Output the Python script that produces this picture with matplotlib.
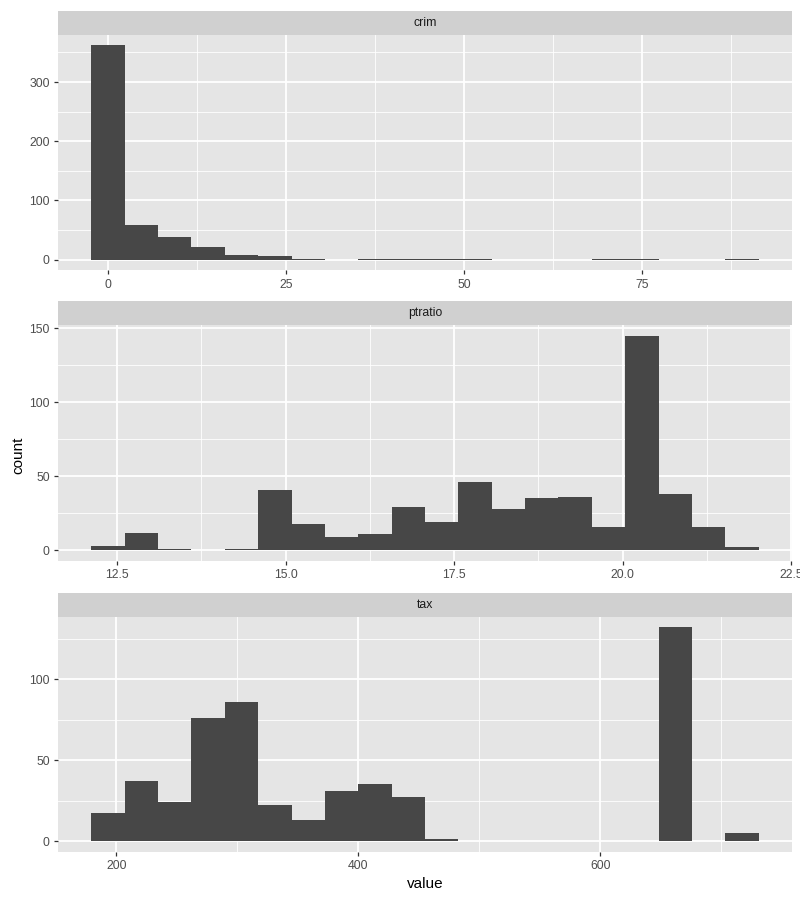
import numpy as np
import matplotlib
matplotlib.use("Agg")
import matplotlib.pyplot as plt

plt.rcParams['font.family'] = ['Liberation Sans', 'DejaVu Sans']

# values: 20 bins per facet (ggplot bins=20)
facets = ["crim", "ptratio", "tax"]
crim_range = (0.00632, 88.9762)
crim_counts = [362, 59, 38, 21, 8, 6, 1, 0, 1, 1, 1, 1, 0, 0, 0, 1, 1, 0, 0, 1]
ptratio_range = (12.6, 22.0)
ptratio_counts = [3, 12, 1, 0, 1, 41, 18, 9, 11, 29, 19, 46, 28, 35, 36, 16, 145, 38, 16, 2]
tax_range = (187, 711)
tax_counts = [17, 37, 24, 76, 86, 22, 13, 31, 35, 27, 1, 0, 0, 0, 0, 0, 0, 132, 0, 5]

xticks = {"crim": [0, 25, 50, 75],
          "ptratio": [12.5, 15.0, 17.5, 20.0, 22.5],
          "tax": [200, 400, 600]}
xtick_labels = {"crim": ["0", "25", "50", "75"],
                "ptratio": ["12.5", "15.0", "17.5", "20.0", "22.5"],
                "tax": ["200", "400", "600"]}
yticks = {"crim": [0, 100, 200, 300],
          "ptratio": [0, 50, 100, 150],
          "tax": [0, 50, 100]}

data = {"crim": (crim_range, crim_counts),
        "ptratio": (ptratio_range, ptratio_counts),
        "tax": (tax_range, tax_counts)}


def gg_edges(rng, n):
    # same rule ggplot2 uses for bins=n
    w = (rng[1] - rng[0]) / (n - 1)
    b = w / 2
    origin = b + np.floor((rng[0] - b) / w) * w
    return origin + w * np.arange(n + 1), w


W, H = 800, 900
fig = plt.figure(figsize=(8, 9), dpi=100)
fig.patch.set_facecolor("white")

# panel top / bottom in pixels
panels = {"crim": (34.6, 270.4), "ptratio": (325, 561), "tax": (616.5, 851.7)}
left, right = 58, 792
strip_h = 24

panel_bg = "#E5E5E5"
strip_bg = "#D0D0D0"
bar_col = "#474747"

for name in facets:
    top, bot = panels[name]
    ax = fig.add_axes([left / W, 1 - bot / H, (right - left) / W, (bot - top) / H])
    ax.set_facecolor(panel_bg)
    rng, counts = data[name]
    edges, w = gg_edges(rng, len(counts))
    ax.bar(edges[:-1], counts, width=w, align='edge', color=bar_col, linewidth=0, zorder=3)

    span = edges[-1] - edges[0]
    ymax = max(counts)

    xt = xticks[name]
    ax.set_xticks(xt)
    ax.set_xticklabels(xtick_labels[name])
    ax.set_yticks(yticks[name])
    ax.set_xticks([(a + b) / 2 for a, b in zip(xt[:-1], xt[1:])] +
                  [xt[0] - (xt[1] - xt[0]) / 2, xt[-1] + (xt[1] - xt[0]) / 2], minor=True)
    yt = yticks[name]
    ax.set_yticks([(a + b) / 2 for a, b in zip(yt[:-1], yt[1:])] +
                  [yt[-1] + (yt[1] - yt[0]) / 2], minor=True)
    ax.set_xlim(edges[0] - 0.05 * span, edges[-1] + 0.05 * span)
    ax.set_ylim(-0.05 * ymax, ymax * 1.05)

    ax.grid(which='major', color='white', linewidth=1.3, zorder=1)
    ax.grid(which='minor', color='white', linewidth=0.6, zorder=1)
    ax.set_axisbelow(True)
    for s in ax.spines.values():
        s.set_visible(False)
    ax.tick_params(which='major', length=3, width=0.9, color='#333333',
                   labelcolor='#4D4D4D', labelsize=8.8, pad=3)
    ax.tick_params(which='minor', length=0)

    sax = fig.add_axes([left / W, 1 - top / H, (right - left) / W, strip_h / H])
    sax.set_facecolor(strip_bg)
    sax.set_xticks([])
    sax.set_yticks([])
    for s in sax.spines.values():
        s.set_visible(False)
    sax.text(0.5, 0.5, name, ha='center', va='center', fontsize=8.8, color='#1A1A1A',
             transform=sax.transAxes)

fig.text(18 / W, 1 - 455 / H, "count", rotation=90, ha='center', va='center', fontsize=11)
fig.text((left + right) / 2 / W, 1 - 884 / H, "value", ha='center', va='center', fontsize=11)

fig.savefig("out.png", dpi=100)
